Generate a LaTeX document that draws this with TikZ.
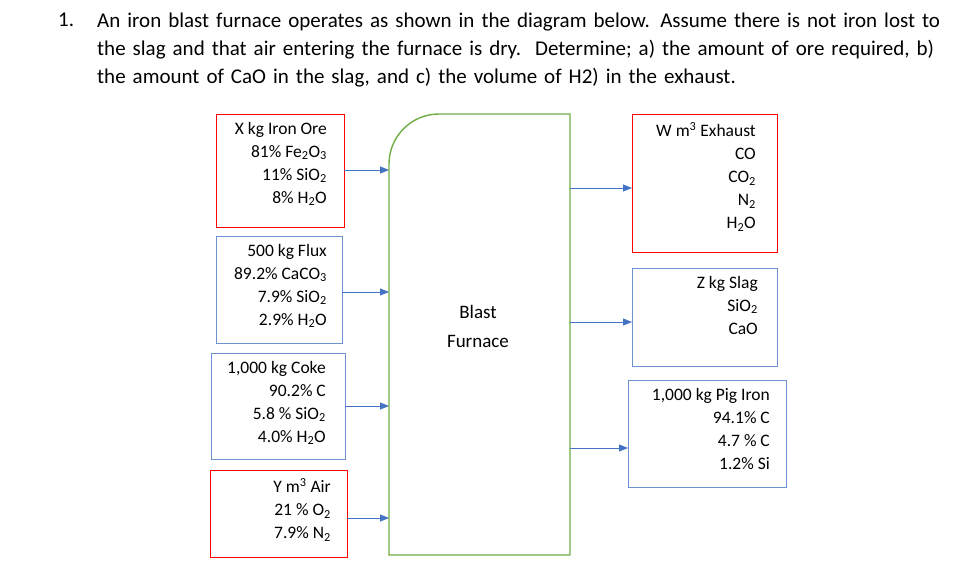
\documentclass[tikz,border=0pt]{standalone}
\usepackage{fontspec}
\setmainfont{Carlito}
\usetikzlibrary{arrows.meta}
\definecolor{fgreen}{RGB}{112,173,71}
\definecolor{ablue}{RGB}{68,114,196}
\definecolor{bblue}{RGB}{110,145,210}
\begin{document}
\begin{tikzpicture}[x=1pt,y=-1pt,
  rbox/.style={draw=red,line width=0.9pt},
  bbox/.style={draw=bblue,line width=0.9pt},
  txt/.style={align=right,font=\fontsize{17.5}{23}\selectfont,anchor=north east,inner sep=0},
  arr/.style={draw=ablue,line width=0.8pt,-{Triangle[length=9pt,width=7pt]}}]
\useasboundingbox (0,0) rectangle (976,578);
\node[anchor=north west,inner sep=0,font=\fontsize{21}{28}\selectfont] (n1) at (58,13) {1.};
\node[anchor=north west,inner sep=0,align=left,font=\fontsize{21}{28}\selectfont,text width=880] (q) at (97,13)
{An iron blast furnace operates as shown in the diagram below. Assume there is not iron lost to\\
the slag and that air entering the furnace is dry.\ \ Determine; a) the amount of ore required, b)\\
the amount of CaO in the slag, and c) the volume of H2) in the exhaust.};
% furnace
\draw[draw=fgreen,line width=1.4pt] (389,555) -- (389,164) arc[start angle=180,end angle=270,radius=50] -- (570,114) -- (570,555) -- cycle;
\node[align=center,font=\fontsize{19}{29}\selectfont] (bf) at (478,326) {Blast\\Furnace};
% left boxes
\draw[rbox] (216,114) rectangle (344,227); \coordinate (o) at (344,170);
\node[txt] (ore) at (327,122) {X kg Iron Ore\\81\% Fe\textsubscript{2}O\textsubscript{3}\\11\% SiO\textsubscript{2}\\8\% H\textsubscript{2}O};
\draw[bbox] (216,236) rectangle (342,343); \coordinate (f) at (342,292);
\node[txt] (flux) at (327,244) {500 kg Flux\\89.2\% CaCO\textsubscript{3}\\7.9\% SiO\textsubscript{2}\\2.9\% H\textsubscript{2}O};
\draw[bbox] (211,353) rectangle (345,459); \coordinate (c) at (345,406);
\node[txt] (coke) at (326,361) {1,000 kg Coke\\90.2\% C\\5.8 \% SiO\textsubscript{2}\\4.0\% H\textsubscript{2}O};
\draw[rbox] (210,470) rectangle (347,557); \coordinate (a) at (347,518);
\node[txt] (air) at (331,478) {Y m\textsuperscript{3} Air\\21 \% O\textsubscript{2}\\7.9\% N\textsubscript{2}};
\coordinate (fo) at (389,170);\coordinate (ff) at (389,292);\coordinate (fc) at (389,406);\coordinate (fa) at (389,518);
\draw[arr] (o) -- (fo); \draw[arr] (f) -- (ff); \draw[arr] (c) -- (fc); \draw[arr] (a) -- (fa);
% right boxes
\draw[rbox] (632,114) rectangle (777,252);
\node[txt] (ex) at (756,122) {W m\textsuperscript{3} Exhaust\\CO\\CO\textsubscript{2}\\N\textsubscript{2}\\H\textsubscript{2}O};
\draw[bbox] (632,268) rectangle (777,366);
\node[txt] (sl) at (758,276) {Z kg Slag\\SiO\textsubscript{2}\\CaO};
\draw[bbox] (628,380) rectangle (786,487);
\node[txt] (pi) at (770,388) {1,000 kg Pig Iron\\94.1\% C\\4.7 \% C\\1.2\% Si};
\coordinate (e1) at (570,188);\coordinate (e2) at (570,322);\coordinate (e3) at (570,448);
\coordinate (x1) at (632,188);\coordinate (x2) at (632,322);\coordinate (x3) at (628,448);
\draw[arr] (e1) -- (x1); \draw[arr] (e2) -- (x2); \draw[arr] (e3) -- (x3);
\end{tikzpicture}
\end{document}
